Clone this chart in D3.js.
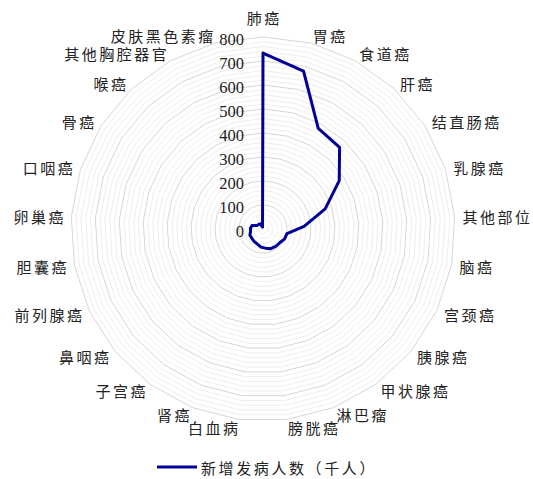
<!DOCTYPE html>
<html>
<head>
<meta charset="utf-8">
<script src="https://cdn.jsdelivr.net/npm/d3@7"></script>
<style>
  html, body { margin: 0; padding: 0; background: #fff; }
  svg { display: block; }
</style>
</head>
<body>
<svg id="chart" width="533" height="479"></svg>
<script>
// Cancer types, clockwise from the top
const categories = [
  "肺癌", "胃癌", "食道癌", "肝癌", "结直肠癌", "乳腺癌", "其他部位",
  "脑癌", "宫颈癌", "胰腺癌", "甲状腺癌", "淋巴瘤", "膀胱癌", "白血病",
  "肾癌", "子宫癌", "鼻咽癌", "前列腺癌", "胆囊癌", "卵巢癌", "口咽癌",
  "骨癌", "喉癌", "其他胸腔器官", "皮肤黑色素瘤"
];
// New cases (thousands)
const newCases = [
  733.3, 679.1, 477.9, 466.1, 376.3, 272.4, 171.5,
  101.6, 98.9, 90.1, 90.0, 88.2, 80.5, 75.3,
  66.8, 63.4, 60.6, 60.3, 52.8, 52.1, 48.1,
  28.0, 26.4, 24.3, 8.0
];
const seriesName = "新增发病人数（千人）";
const majorTicks = [0, 100, 200, 300, 400, 500, 600, 700, 800];
const minorStep = 20;

const svg = d3.select("#chart");
const cx = 263, cy = 229;
const rScale = d3.scaleLinear().domain([0, 800]).range([0, 192]);
const angle = d3.scaleLinear().domain([0, categories.length]).range([0, 2 * Math.PI]);

const cjkFont = "'Noto Sans CJK SC', 'Noto Sans', sans-serif";
const ls = 2.5;

const g = svg.append("g").attr("transform", `translate(${cx},${cy})`);

// Web grid: polygons at every minor and major level
const levels = d3.range(minorStep, 800 + 0.001, minorStep);
const ringLine = d3.lineRadial()
  .angle((d, i) => angle(i))
  .radius(d => rScale(d))
  .curve(d3.curveLinearClosed);

g.append("g").selectAll("path")
  .data(levels)
  .join("path")
  .attr("d", v => ringLine(categories.map(() => v)))
  .attr("fill", "none")
  .attr("stroke", v => (v % 100 === 0 ? "#d6d6d6" : "#eeeeee"))
  .attr("stroke-width", 1);

// Value axis labels along the top spoke
g.append("g").selectAll("text")
  .data(majorTicks)
  .join("text")
  .attr("x", -19)
  .attr("y", v => -rScale(v) + 2)
  .attr("text-anchor", "end")
  .attr("dominant-baseline", "central")
  .attr("font-family", "'Liberation Serif', 'Times New Roman', serif")
  .attr("font-size", 16.5)
  .attr("fill", "#222")
  .text(v => v);

// Category labels around the web
const labelR = 200;
g.append("g").selectAll("text")
  .data(categories)
  .join("text")
  .each(function (d, i) {
    const a = angle(i);
    const s = Math.sin(a), c = Math.cos(a);
    let anchor = "middle", r = labelR, dx = ls / 2;
    if (s > 0.01) { anchor = "start"; dx = 0; }
    else if (s < -0.01) { anchor = "end"; dx = ls; }
    else { r = 212; }
    d3.select(this)
      .attr("x", r * s + dx)
      .attr("y", -r * c)
      .attr("text-anchor", anchor);
  })
  .attr("dominant-baseline", "central")
  .attr("font-family", cjkFont)
  .attr("font-size", 15)
  .attr("letter-spacing", ls)
  .attr("fill", "#222")
  .text(d => d);

// Data series
const seriesLine = d3.lineRadial()
  .angle((d, i) => angle(i))
  .radius(d => rScale(d))
  .curve(d3.curveLinearClosed);

g.append("path")
  .attr("d", seriesLine(newCases))
  .attr("fill", "none")
  .attr("stroke", "#000096")
  .attr("stroke-width", 3)
  .attr("stroke-linejoin", "round");

// Legend
const legend = svg.append("g").attr("transform", "translate(157,467)");
legend.append("line")
  .attr("x1", 0).attr("x2", 40).attr("y1", 0).attr("y2", 0)
  .attr("stroke", "#000096").attr("stroke-width", 3);
legend.append("text")
  .attr("x", 44).attr("y", 0)
  .attr("dominant-baseline", "central")
  .attr("font-family", cjkFont)
  .attr("font-size", 15)
  .attr("letter-spacing", 2.6)
  .attr("fill", "#222")
  .text(seriesName);
</script>
</body>
</html>
